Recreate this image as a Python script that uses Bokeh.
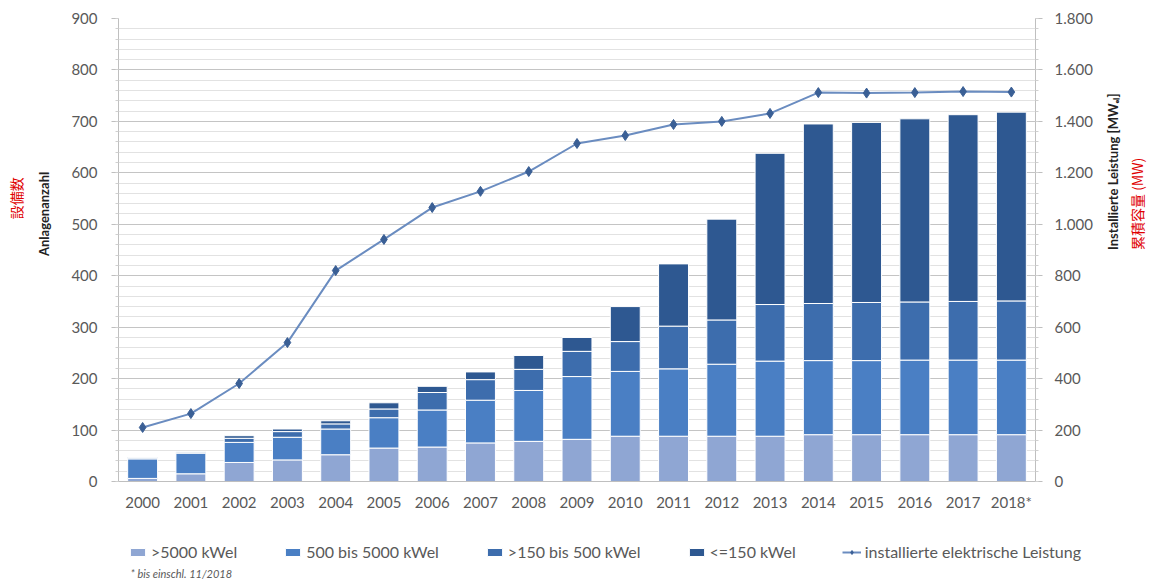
import math
from bokeh.plotting import figure
from bokeh.layouts import column
from bokeh.models import (FactorRange, Range1d, LinearAxis, SingleIntervalTicker, FixedTicker,
                          Legend, LegendItem, Label, ColumnDataSource)
from bokeh.embed import file_html
from bokeh.resources import INLINE

years = ["2000", "2001", "2002", "2003", "2004", "2005", "2006", "2007", "2008", "2009",
         "2010", "2011", "2012", "2013", "2014", "2015", "2016", "2017", "2018*"]
gt5000 = [6, 15, 37, 42, 52, 65, 67, 75, 78, 82, 88, 88, 88, 88, 91, 91, 91, 91, 91]
b500_5000 = [38, 40, 39, 44, 50, 59, 72, 83, 99, 122, 126, 131, 140, 146, 144, 144, 145, 145, 145]
b150_500 = [2, 2, 8, 11, 10, 17, 34, 40, 41, 49, 58, 83, 86, 110, 111, 113, 113, 114, 115]
le150 = [1, 1, 5, 5, 6, 12, 12, 15, 27, 27, 68, 121, 196, 294, 349, 350, 356, 363, 367]
leistung_mw = [210, 264, 381, 540, 820, 941, 1065, 1128, 1205, 1314, 1345, 1388, 1400, 1431,
               1512, 1510, 1512, 1516, 1514]
series_names = [">5000 kWel", "500 bis 5000 kWel", ">150 bis 500 kWel", "<=150 kWel"]
line_name = "installierte elektrische Leistung"
right_ticks = [0, 200, 400, 600, 800, 1000, 1200, 1400, 1600, 1800]
right_tick_labels = ["0", "200", "400", "600", "800", "1.000", "1.200", "1.400", "1.600", "1.800"]
footnote = "* bis einschl. 11/2018"

colors = ["#8FA6D3", "#4A7FC4", "#3D6DAD", "#2E5891"]
LINE_C = "#6A8CC0"
MARK_C = "#3A5F95"
FONT = "Lato"
GRAY = "#595959"
NB = "\u00a0"

src = ColumnDataSource(dict(year=years, a=gt5000, b=b500_5000, c=b150_500, d=le150, mw=leistung_mw))

p = figure(width=1159, height=520, x_range=FactorRange(*years), y_range=Range1d(0, 900),
           output_backend="svg", toolbar_location=None,
           min_border_left=118, min_border_right=119, min_border_top=18, min_border_bottom=39)
p.outline_line_color = None
p.extra_y_ranges = {"mw": Range1d(0, 1800)}

p.vbar_stack(["a", "b", "c", "d"], x="year", width=0.62, source=src,
             color=colors, line_color="white", line_width=1)
p.line("year", "mw", source=src, y_range_name="mw", line_color=LINE_C, line_width=2)
p.scatter("year", "mw", source=src, y_range_name="mw", marker="diamond", size=10,
          fill_color=MARK_C, line_color=MARK_C)

# left axis
ya = p.yaxis[0]
ya.ticker = SingleIntervalTicker(interval=100, num_minor_ticks=5)
ya.axis_label = NB * 23 + "Anlagenanzahl"
ya.axis_label_text_font = FONT
ya.axis_label_text_font_style = "bold"
ya.axis_label_text_font_size = "13px"
ya.axis_label_text_color = "#222222"
ya.axis_label_standoff = 16
ya.major_label_text_font = FONT
ya.major_label_text_font_size = "15px"
ya.major_label_text_color = GRAY
ya.major_label_standoff = 14
ya.axis_line_color = "#BFBFBF"
ya.major_tick_line_color = "#BFBFBF"
ya.minor_tick_line_color = "#D0D0D0"
ya.major_tick_out = 7
ya.major_tick_in = 0
ya.minor_tick_out = 3
p.ygrid.ticker = ya.ticker

ya2 = LinearAxis(ticker=FixedTicker(ticks=[0], minor_ticks=[]), axis_label=NB * 33 + "設備数",
                 major_label_overrides={0: ""}, major_label_standoff=0,
                 axis_label_text_font="Noto Sans CJK JP", axis_label_text_font_size="14px",
                 axis_label_text_color="#E00000", axis_label_text_font_style="normal",
                 axis_line_color=None, major_tick_out=0, major_tick_in=0,
                 major_tick_line_color=None, minor_tick_line_color=None, axis_label_standoff=8)
p.add_layout(ya2, "left")

# right axis
ra = LinearAxis(y_range_name="mw", ticker=SingleIntervalTicker(interval=200, num_minor_ticks=5))
ra.major_label_overrides = {t: l for t, l in zip(right_ticks, right_tick_labels)}
ra.axis_label_text_font = FONT
ra.axis_label_text_font_style = "bold"
ra.axis_label_text_font_size = "13px"
ra.axis_label_text_color = "#222222"
ra.axis_label_standoff = 17
ra.major_label_text_font = FONT
ra.major_label_text_font_size = "15px"
ra.major_label_text_color = GRAY
ra.major_label_standoff = 12
ra.axis_line_color = "#BFBFBF"
ra.major_tick_line_color = "#BFBFBF"
ra.minor_tick_line_color = "#D0D0D0"
ra.major_tick_out = 7
ra.major_tick_in = 0
ra.minor_tick_out = 3

ra2 = LinearAxis(y_range_name="mw", ticker=FixedTicker(ticks=[0], minor_ticks=[]),
                 major_label_overrides={0: ""}, major_label_standoff=0,
                 axis_label_text_font="Noto Sans CJK JP", axis_label_text_font_size="14px",
                 axis_label_text_color="#E00000", axis_label_text_font_style="normal",
                 axis_line_color=None, major_tick_out=0, major_tick_in=0,
                 major_tick_line_color=None, minor_tick_line_color=None, axis_label_standoff=5)

right_title = "Installierte Leistung [MWₑₗ]"
right_red = "累積容量 (MW)"
ra.axis_label = right_title
ra2.axis_label = right_red
try:
    ra.axis_label_orientation = math.pi / 2
    ra2.axis_label_orientation = math.pi / 2
except Exception:
    pass
p.add_layout(ra, "right")
p.add_layout(ra2, "right")

# x axis
xa = p.xaxis[0]
xa.major_label_text_font = FONT
xa.major_label_text_font_size = "15px"
xa.major_label_text_color = GRAY
xa.major_label_standoff = 5
xa.axis_line_color = "#BFBFBF"
xa.major_tick_line_color = None
xa.minor_tick_line_color = None

# grid
p.xgrid.grid_line_color = None
p.ygrid.grid_line_color = "#C4C4C4"
p.ygrid.grid_line_width = 1
p.ygrid.minor_grid_line_color = "#E2E2E2"

# legend strip (second figure, glyphs kept out of view; only the legend shows)
q = figure(width=1159, height=63, x_range=p.x_range, y_range=Range1d(2000, 3000),
           output_backend="svg", toolbar_location=None, x_axis_location=None,
           y_axis_location=None, min_border=0)
q.outline_line_color = None
q.grid.grid_line_color = None
aligned_off = True
try:
    q.frame_align = False
except Exception:
    aligned_off = False

qbars = q.vbar_stack(["a", "b", "c", "d"], x="year", width=0.62, source=src,
                     color=colors, line_color="white", line_width=1)
qline = q.line("year", "mw", source=src, line_color=LINE_C, line_width=2)
qpts = q.scatter("year", "mw", source=src, marker="diamond", size=9,
                 fill_color=MARK_C, line_color=MARK_C)

if aligned_off:
    lx, nx, fs, sp = 128, 130, "16px", 46
else:
    lx, nx, fs, sp = 10, 12, "15px", 28

items = [LegendItem(label=n, renderers=[r]) for n, r in zip(series_names, qbars)]
items.append(LegendItem(label=line_name, renderers=[qline, qpts]))
legend = Legend(items=items, orientation="horizontal", location=(lx, 22),
                label_text_font=FONT, label_text_font_size=fs, label_text_color=GRAY,
                glyph_width=19, glyph_height=10, spacing=sp, label_standoff=4,
                border_line_color=None, background_fill_alpha=0, padding=2, margin=0)
q.add_layout(legend, "center")

note = Label(x=nx, y=4, x_units="screen", y_units="screen", text=footnote,
             text_font=FONT, text_font_style="italic", text_font_size="11px", text_color=GRAY)
q.add_layout(note)

layout = column(p, q, spacing=0)
open("out.html", "w").write(file_html(layout, INLINE))
